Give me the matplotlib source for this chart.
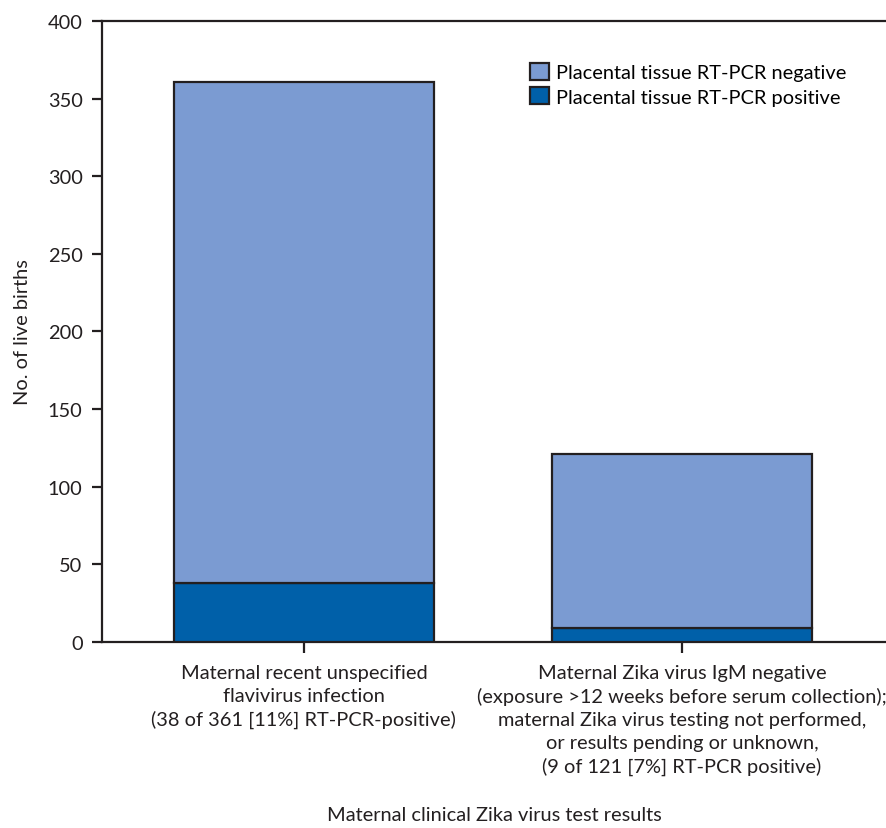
import matplotlib
matplotlib.use('Agg')
import matplotlib.pyplot as plt
from matplotlib.patches import Patch

categories = ['Maternal recent unspecified\nflavivirus infection\n(38 of 361 [11%] RT-PCR-positive)',
              'Maternal Zika virus IgM negative\n(exposure >12 weeks before serum collection);\nmaternal Zika virus testing not performed,\nor results pending or unknown,\n(9 of 121 [7%] RT-PCR positive)']
positive = [38, 9]
total = [361, 121]
negative = [t - p for t, p in zip(total, positive)]

light = '#7b9bd2'
dark = '#0060a9'
edge = '#231f20'

plt.rcParams['font.family'] = ['Lato', 'DejaVu Sans']
fs = 14.4

fig = plt.figure(figsize=(8.87, 8.29), dpi=100)
ax = fig.add_axes([0.115, 0.2244, 0.885, 0.7491])

x = [0, 1]
w = 0.688
ax.bar(x, positive, width=w, color=dark, edgecolor=edge, linewidth=1.6, zorder=3)
ax.bar(x, negative, width=w, bottom=positive, color=light, edgecolor=edge, linewidth=1.6, zorder=3)

ax.set_xlim(-0.534, 1.542)
ax.set_ylim(0, 400)
ax.set_yticks(range(0, 401, 50))
ax.set_xticks(x)
ax.set_xticklabels(categories, fontsize=fs, linespacing=1.41, color=edge)
ax.tick_params(axis='y', labelsize=fs, length=7, width=1.6, pad=7, colors=edge)
ax.tick_params(axis='x', length=8, width=1.6, pad=8, colors=edge)
for s in ['left', 'top', 'bottom']:
    ax.spines[s].set_linewidth(1.6)
    ax.spines[s].set_color(edge)
ax.spines['right'].set_visible(False)

ax.set_ylabel('No. of live births', fontsize=fs, labelpad=12, color=edge)
ax.set_xlabel('Maternal clinical Zika virus test results', fontsize=fs, labelpad=22, color=edge)

handles = [Patch(facecolor=light, edgecolor=edge, linewidth=1.6, label='Placental tissue RT-PCR negative'),
           Patch(facecolor=dark, edgecolor=edge, linewidth=1.6, label='Placental tissue RT-PCR positive')]
ax.legend(handles=handles, loc='upper left', bbox_to_anchor=(0.535, 0.946), frameon=False,
          handlelength=0.95, handleheight=0.95, handletextpad=0.35, labelspacing=0.3,
          fontsize=fs, borderaxespad=0)

fig.savefig('out.png', dpi=100)
